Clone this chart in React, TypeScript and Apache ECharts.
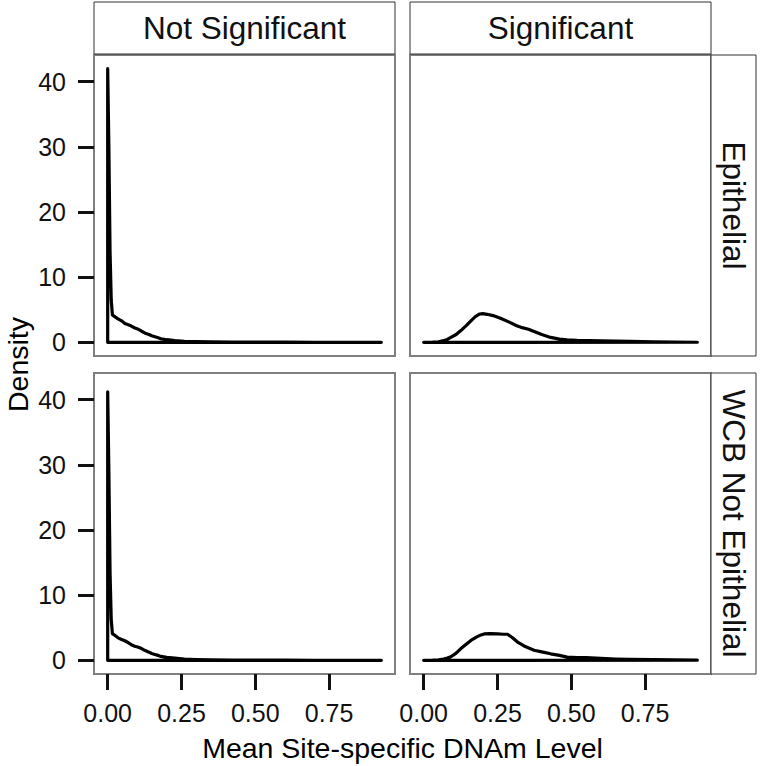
import React, { useEffect, useRef } from "react";
import * as echarts from "echarts";

// Facet labels
const colStrips = ["Not Significant", "Significant"];
const rowStrips = ["Epithelial", "WCB Not Epithelial"];
const xTicks = [0, 0.25, 0.5, 0.75];
const yTicks = [0, 10, 20, 30, 40];
const xTitle = "Mean Site-specific DNAm Level";
const yTitle = "Density";

// Density curves (x = mean DNAm level, y = density)
const nsEpiX = [0, 0.004, 0.008, 0.012, 0.016, 0.025, 0.035, 0.047, 0.058, 0.07, 0.08, 0.092, 0.104, 0.115, 0.127, 0.14, 0.149, 0.16, 0.171, 0.18, 0.2, 0.227, 0.26, 0.3, 0.35, 0.42, 0.5, 0.6, 0.7, 0.8, 0.927];
const nsEpiY = [42.0, 30.0, 14.0, 6.5, 4.2, 3.9, 3.6, 3.3, 2.9, 2.7, 2.5, 2.2, 2.0, 1.7, 1.4, 1.2, 1.0, 0.85, 0.7, 0.55, 0.4, 0.25, 0.15, 0.1, 0.06, 0.04, 0.03, 0.02, 0.01, 0.01, 0.0];

const sigEpiX = [0, 0.03, 0.05, 0.068, 0.08, 0.092, 0.11, 0.126, 0.145, 0.16, 0.175, 0.19, 0.2, 0.215, 0.235, 0.26, 0.29, 0.315, 0.33, 0.355, 0.374, 0.4, 0.43, 0.46, 0.486, 0.52, 0.56, 0.6, 0.65, 0.7, 0.78, 0.85, 0.927];
const sigEpiY = [0.0, 0.02, 0.08, 0.25, 0.45, 0.75, 1.2, 1.8, 2.6, 3.3, 3.95, 4.35, 4.4, 4.3, 4.1, 3.7, 3.1, 2.55, 2.3, 2.0, 1.65, 1.2, 0.75, 0.5, 0.38, 0.3, 0.26, 0.22, 0.18, 0.14, 0.08, 0.04, 0.01];

const nsWcbX = [0, 0.004, 0.008, 0.012, 0.016, 0.025, 0.035, 0.047, 0.058, 0.07, 0.08, 0.092, 0.104, 0.115, 0.127, 0.14, 0.149, 0.16, 0.171, 0.18, 0.2, 0.227, 0.26, 0.3, 0.35, 0.42, 0.5, 0.6, 0.7, 0.8, 0.927];
const nsWcbY = [41.2, 29.0, 13.5, 6.3, 4.1, 3.8, 3.45, 3.2, 3.0, 2.7, 2.4, 2.15, 2.0, 1.8, 1.5, 1.25, 1.05, 0.9, 0.76, 0.6, 0.45, 0.35, 0.2, 0.12, 0.07, 0.04, 0.03, 0.02, 0.01, 0.01, 0.0];

const sigWcbX = [0, 0.03, 0.05, 0.068, 0.08, 0.092, 0.11, 0.126, 0.145, 0.16, 0.18, 0.194, 0.205, 0.225, 0.25, 0.27, 0.284, 0.3, 0.318, 0.34, 0.374, 0.4, 0.43, 0.46, 0.486, 0.52, 0.55, 0.6, 0.65, 0.7, 0.78, 0.85, 0.927];
const sigWcbY = [0.0, 0.02, 0.08, 0.2, 0.35, 0.55, 1.1, 1.8, 2.5, 3.05, 3.6, 3.9, 4.05, 4.1, 4.05, 4.0, 4.0, 3.5, 2.8, 2.2, 1.55, 1.3, 1.0, 0.75, 0.5, 0.42, 0.4, 0.3, 0.2, 0.15, 0.1, 0.06, 0.02];

const panelXs = [nsEpiX, sigEpiX, nsWcbX, sigWcbX];
const panelYs = [nsEpiY, sigEpiY, nsWcbY, sigWcbY];

const FONT = "'Liberation Sans', Arial, Helvetica, sans-serif";

export default function App() {
  const ref = useRef<HTMLDivElement>(null);

  useEffect(() => {
    if (!ref.current) return;
    const chart = echarts.init(ref.current, undefined, { renderer: "svg" });

    const colLeft = [94, 410];
    const rowTop = [55, 373];
    const pw = 301;
    const ph = 301;

    const grids: any[] = [];
    const xAxes: any[] = [];
    const yAxes: any[] = [];
    const series: any[] = [];

    for (let r = 0; r < 2; r++) {
      for (let c = 0; c < 2; c++) {
        const i = r * 2 + c;
        grids.push({
          left: colLeft[c],
          top: rowTop[r],
          width: pw,
          height: ph,
          show: true,
          borderColor: "#7f7f7f",
          borderWidth: 2,
          backgroundColor: "#ffffff",
          containLabel: false,
        });
        xAxes.push({
          type: "value",
          gridIndex: i,
          position: "bottom",
          min: -0.04635,
          max: 0.97335,
          splitLine: { show: false },
          axisLine: { show: false, onZero: false },
          axisTick: {
            show: r === 1,
            length: 16,
            lineStyle: { color: "#111", width: 3 },
            customValues: xTicks,
          },
          axisLabel: {
            show: r === 1,
            customValues: xTicks,
            formatter: (v: number) => v.toFixed(2),
            fontFamily: FONT,
            fontSize: 25,
            color: "#111",
            margin: 26,
          },
        });
        yAxes.push({
          type: "value",
          gridIndex: i,
          position: "left",
          min: -2.1,
          max: 44.1,
          splitLine: { show: false },
          axisLine: { show: false, onZero: false },
          axisTick: {
            show: c === 0,
            length: 16,
            lineStyle: { color: "#111", width: 3 },
            customValues: yTicks,
          },
          axisLabel: {
            show: c === 0,
            customValues: yTicks,
            fontFamily: FONT,
            fontSize: 25,
            color: "#111",
            margin: 28,
          },
        });
        const xs = panelXs[i];
        const ys = panelYs[i];
        const pts: number[][] = xs.map((x, k) => [x, ys[k]]);
        // close the outline like ggplot's density polygon: baseline back to start
        const closed = [[xs[0], 0], ...pts, [xs[xs.length - 1], 0], [xs[0], 0]];
        series.push({
          type: "line",
          xAxisIndex: i,
          yAxisIndex: i,
          data: closed,
          showSymbol: false,
          symbol: "none",
          lineStyle: { color: "#000", width: 3.2, join: "round", cap: "round" },
          silent: true,
        });
      }
    }

    const graphics: any[] = [];
    // top strips
    for (let c = 0; c < 2; c++) {
      graphics.push({
        type: "rect",
        shape: { x: colLeft[c], y: 2, width: pw, height: 52 },
        style: { fill: "#fff", stroke: "#333", lineWidth: 1 },
        silent: true,
      });
      graphics.push({
        type: "text",
        x: colLeft[c] + pw / 2,
        y: 28,
        style: {
          text: colStrips[c],
          font: `31.5px ${FONT}`,
          fill: "#111",
          align: "center",
          verticalAlign: "middle",
        },
        silent: true,
      });
    }
    // right strips
    for (let r = 0; r < 2; r++) {
      graphics.push({
        type: "rect",
        shape: { x: 711, y: rowTop[r], width: 45, height: ph },
        style: { fill: "#fff", stroke: "#333", lineWidth: 1 },
        silent: true,
      });
      graphics.push({
        type: "text",
        x: 734,
        y: rowTop[r] + ph / 2,
        rotation: -Math.PI / 2,
        style: {
          text: rowStrips[r],
          font: `31.5px ${FONT}`,
          fill: "#111",
          align: "center",
          verticalAlign: "middle",
        },
        silent: true,
      });
    }
    // axis titles
    graphics.push({
      type: "text",
      x: 402.5,
      y: 748,
      style: {
        text: xTitle,
        font: `28.5px ${FONT}`,
        fill: "#000",
        align: "center",
        verticalAlign: "middle",
      },
      silent: true,
    });
    graphics.push({
      type: "text",
      x: 18,
      y: 364.5,
      rotation: Math.PI / 2,
      style: {
        text: yTitle,
        font: `28.5px ${FONT}`,
        fill: "#000",
        align: "center",
        verticalAlign: "middle",
      },
      silent: true,
    });

    chart.setOption({
      animation: false,
      backgroundColor: "#ffffff",
      grid: grids,
      xAxis: xAxes,
      yAxis: yAxes,
      series,
      graphic: { elements: graphics },
    });

    return () => chart.dispose();
  }, []);

  return (
    <div
      ref={ref}
      style={{ position: "fixed", left: 0, top: 0, width: 760, height: 766 }}
    />
  );
}
